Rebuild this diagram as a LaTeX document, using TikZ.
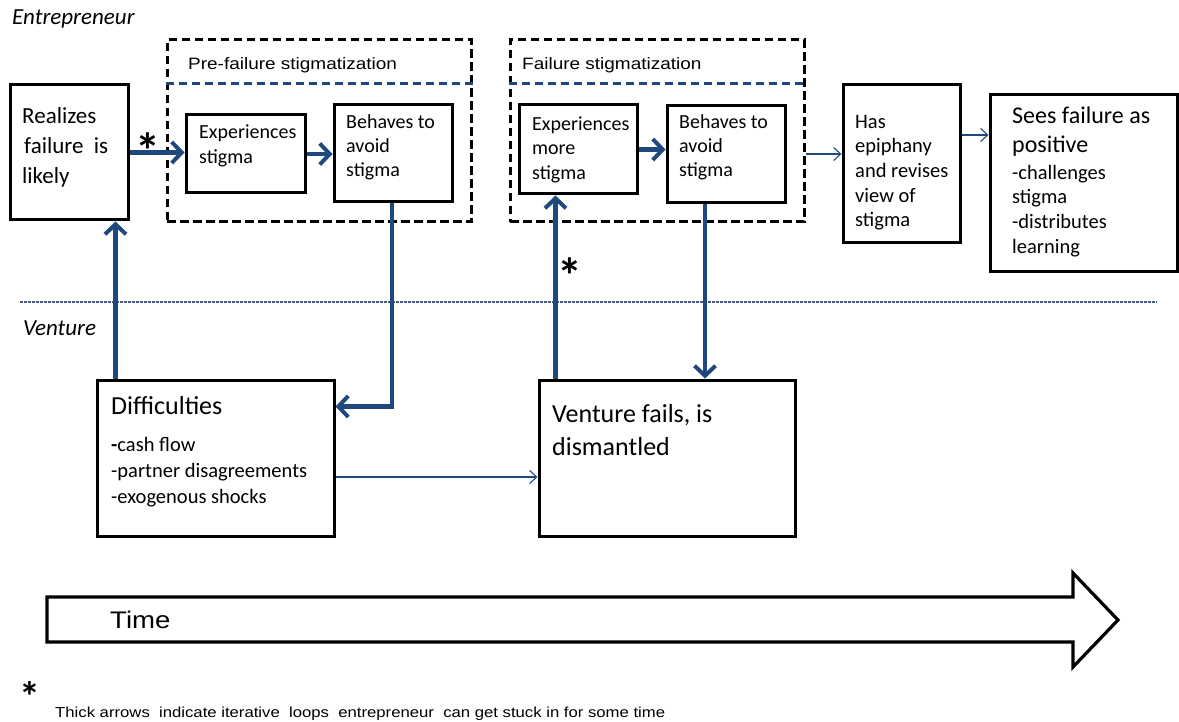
\documentclass[tikz,border=0pt]{standalone}
\usepackage{fontspec}
\setmainfont{Carlito}
\newfontfamily\arialfont{Liberation Sans}[FakeStretch=1.15]
\usetikzlibrary{arrows.meta,calc}
\definecolor{navy}{RGB}{31,73,125}
\definecolor{sepblue}{RGB}{70,90,135}

% box node from its corner coordinates: style, name, x1, y1, x2, y2
\newcommand\placebox[6]{%
  \node[#1,minimum width={(#5-#3)*1pt},minimum height={(#6-#4)*1pt}]
    (#2) at ({(#3+#5)/2},{(#4+#6)/2}) {};}
% left-aligned text block: name, x, first baseline, size, line skip, text
\newcommand\boxtext[6]{%
  \node[lbl,font=\fontsize{#4}{#5}\selectfont] (#1) at (#2,{#3-0.7*#5}) {\strut #6};}

\begin{document}
\begin{tikzpicture}[x=1pt,y=-1pt,
  box/.style={draw=black,line width=3pt,inner sep=0pt},
  grp/.style={draw=black,line width=3pt,dash pattern=on 8.5pt off 4.5pt,inner sep=0pt},
  divider/.style={draw=navy,line width=3pt,dash pattern=on 8.5pt off 4.5pt},
  loop/.style={draw=navy,line width=4.5pt,
    -{Straight Barb[length=10pt,width=21pt,line width=4pt]}},
  flow/.style={draw=navy,line width=1.2pt,
    -{Straight Barb[length=7pt,width=13pt,line width=1.1pt]}},
  lbl/.style={anchor=north west,inner sep=0pt,align=left},
  lane/.style={anchor=base west,inner sep=0pt,font=\itshape\fontsize{23}{28}\selectfont},
  grptitle/.style={anchor=base west,inner sep=0pt,font=\arialfont\fontsize{16.5}{20}\selectfont},
  starmark/.style={anchor=north,inner sep=0pt,font=\bfseries\fontsize{50}{50}\selectfont},
]
\useasboundingbox (0,0) rectangle (1179,722);

% lanes
\node[lane] (entre) at (12,25) {Entrepreneur};
\node[lane] (vent) at (23,335) {Venture};
\draw[sepblue,line width=1.1pt,dash pattern=on 2.5pt off 1.5pt] (20,302) coordinate (sepL) -- (1157,302) coordinate (sepR);

% stigmatization groups
\placebox{grp}{grp1}{167}{40}{471}{222}
\placebox{grp}{grp2}{510}{40}{804}{222}
\draw[divider] ([yshift=-45pt]grp1.north west) -- ([yshift=-45pt]grp1.north east);
\draw[divider] ([yshift=-45pt]grp2.north west) -- ([yshift=-45pt]grp2.north east);
\node[grptitle] (grp1t) at (188,70) {Pre-failure stigmatization};
\node[grptitle] (grp2t) at (522,70) {Failure stigmatization};

% boxes
\placebox{box}{realize}{10}{85}{128}{220}
\placebox{box}{exp1}{186}{115}{305}{193}
\placebox{box}{beh1}{334}{105}{452}{202}
\placebox{box}{exp2}{519}{105}{637}{194}
\placebox{box}{beh2}{667}{106}{785}{203}
\placebox{box}{has}{843}{85}{960}{243}
\placebox{box}{sees}{990}{95}{1177}{272}
\placebox{box}{diff}{97}{380}{334}{536}
\placebox{box}{fail}{539}{380}{795}{536}

% box texts
\boxtext{trealize}{22}{123}{23}{30}{Realizes\\\hspace{2pt}failure\hspace{0.45em}is\\likely}
\boxtext{texp1}{199}{138}{20}{25}{Experiences\\stigma}
\boxtext{tbeh1}{346}{128}{20}{24}{Behaves to\\avoid\\stigma}
\boxtext{texp2}{532}{130}{20}{24.5}{Experiences\\more\\stigma}
\boxtext{tbeh2}{679}{128}{20}{24}{Behaves to\\avoid\\stigma}
\boxtext{thas}{855}{128}{20.5}{24.7}{Has\\epiphany\\and revises\\view of\\stigma}
\boxtext{tsees}{1012}{123}{24}{29}{Sees failure as\\positive}
\boxtext{tseesl}{1012}{179}{20.5}{24.7}{-challenges\\stigma\\-distributes\\learning}
\boxtext{tdiff}{111}{414}{26}{30}{Difficulties}
\boxtext{tdiffl}{111}{451}{20.5}{26}{\textbf{-}cash flow\\-partner disagreements\\-exogenous shocks}
\boxtext{tfail}{552}{422}{26}{33}{Venture fails, is\\dismantled}

% thick loop arrows
\draw[loop] (realize.east) -- (realize.east -| exp1.west);
\draw[loop] (exp1.east) -- (exp1.east -| beh1.west);
\draw[loop] (exp2.east) -- (exp2.east -| beh2.west);
\draw[loop] ([xshift=-1pt]beh1.south) |- ([yshift=-28pt]diff.north east);
\draw[loop] ([xshift=20pt]diff.north west) -- ([xshift=20pt]diff.north west |- realize.south);
\draw[loop] ([xshift=18pt]fail.north west) -- ([xshift=18pt]fail.north west |- exp2.south);
\draw[loop] ([xshift=-21pt]beh2.south) -- ([xshift=-21pt]beh2.south |- fail.north);

% thin flow arrows
\draw[flow] ([yshift=-23pt]grp2.east) -- ([yshift=-23pt]grp2.east -| has.west);
\draw[flow] ([yshift=29pt]has.east) -- ([yshift=29pt]has.east -| sees.west);
\draw[flow] ([yshift=-19pt]diff.east) -- ([yshift=-19pt]diff.east -| fail.west);

% loop markers
\node[starmark] (star1) at (148,133) {*};
\node[starmark] (star2) at (570,258) {*};

% time arrow
\draw[line width=3.2pt,line join=miter,fill=white]
  (47,597) -- (1073,597) -- (1073,573) -- (1118,620) -- (1073,667) -- (1073,642) -- (47,642) -- cycle;
\node[anchor=base west,inner sep=0pt,font=\arialfont\fontsize{24}{28}\selectfont] (time) at (110,628) {Time};

% footnote
\node[starmark,font=\bfseries\fontsize{42}{42}\selectfont] (star3) at (30,681) {*};
\node[anchor=base west,inner sep=0pt] (note) at (55,717)
  {\resizebox{610pt}{!}{\arialfont\fontsize{14}{16}\selectfont Thick arrows\ \ indicate iterative\ \ loops\ \ entrepreneur\ \ can get stuck in for some time}};
\end{tikzpicture}
\end{document}
